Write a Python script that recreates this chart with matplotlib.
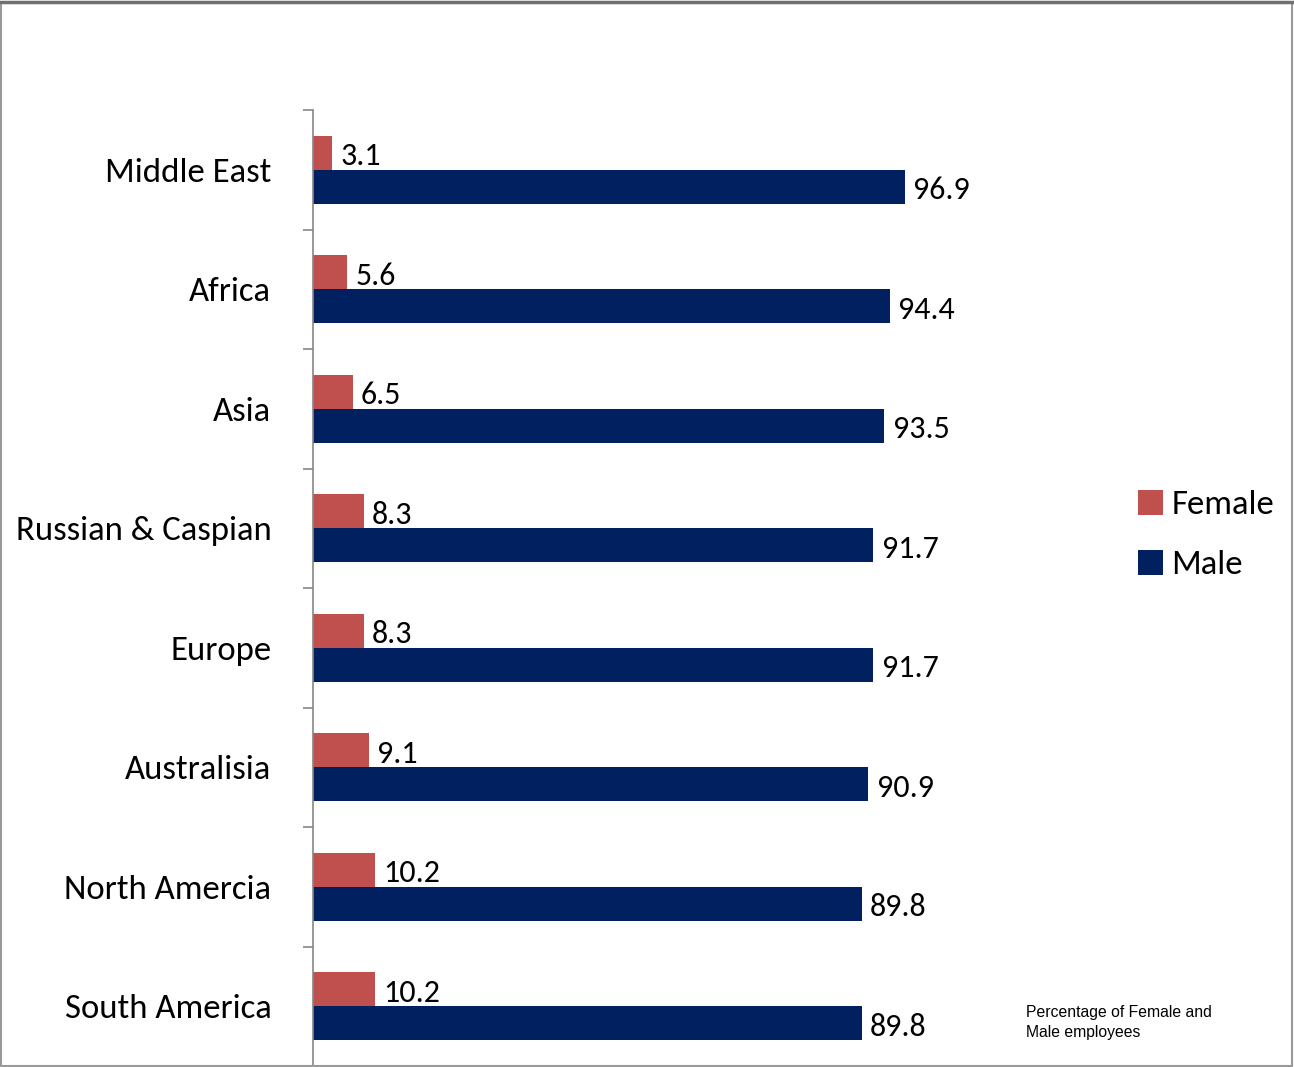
import matplotlib
matplotlib.use("Agg")
import matplotlib.pyplot as plt
import numpy as np
from matplotlib.patches import Rectangle

# ---------------- data ----------------
regions = ["Middle East", "Africa", "Asia", "Russian & Caspian", "Europe",
           "Australisia", "North Amercia", "South America"]
female = [3.1, 5.6, 6.5, 8.3, 8.3, 9.1, 10.2, 10.2]
male = [96.9, 94.4, 93.5, 91.7, 91.7, 90.9, 89.8, 89.8]

FEMALE_C = "#C0504D"
MALE_C = "#002060"
FONT = ["Carlito", "DejaVu Sans"]

fig = plt.figure(figsize=(12.94, 10.67), dpi=100)
ax = fig.add_axes([313 / 1294, 1 / 1067, 611 / 1294, 956 / 1067])

n = len(regions)
y = np.arange(n)          # 0 = top
h = 0.285
ax.barh(y - h / 2, female, height=h, color=FEMALE_C, label="Female")
ax.barh(y + h / 2, male, height=h, color=MALE_C, label="Male")

for yi, v in zip(y, female):
    ax.annotate(f"{v}", (v, yi - h / 2 + 0.03), xytext=(6, 0), textcoords="offset points",
                va="center", ha="left", fontsize=23, family=FONT, annotation_clip=False)
for yi, v in zip(y, male):
    ax.annotate(f"{v}", (v, yi + h / 2 + 0.03), xytext=(6, 0), textcoords="offset points",
                va="center", ha="left", fontsize=23, family=FONT, annotation_clip=False)

ax.set_xlim(0, 100)
ax.set_ylim(n - 0.5, -0.5)
ax.set_xticks([])
ax.set_yticks(np.arange(-0.5, n, 1.0))
ax.set_yticklabels([])
ax.set_yticks(y, minor=True)
ax.set_yticklabels(regions, minor=True, fontsize=25, family=FONT)
ax.tick_params(axis="y", which="major", length=7, color="#868686", width=1.2, direction="out")
ax.tick_params(axis="y", which="minor", length=0, pad=30)
for s in ["top", "right", "bottom"]:
    ax.spines[s].set_visible(False)
ax.spines["left"].set_color("#868686")
ax.spines["left"].set_linewidth(1.2)

leg = fig.legend(loc="upper left", bbox_to_anchor=(1124 / 1294, 1 - 476 / 1067), frameon=False,
                 prop={"family": FONT, "size": 25}, handlelength=0.72, handleheight=0.72,
                 handletextpad=0.25, labelspacing=0.85, borderaxespad=0)

fig.text(1026 / 1294, 1 - 1005 / 1067, "Percentage of Female and\nMale employees",
         fontsize=11.3, family="Liberation Sans", va="top", ha="left", linespacing=1.45)

# outer frame
fig.patches.append(Rectangle((0.0005, 0.0005), 0.998, 0.997, transform=fig.transFigure,
                             fill=False, edgecolor="#9a9a9a", linewidth=1.5))
fig.add_artist(plt.Line2D([0, 1], [0.998, 0.998], transform=fig.transFigure,
                          color="#707070", linewidth=2.5))

fig.savefig("out.png", dpi=100)
